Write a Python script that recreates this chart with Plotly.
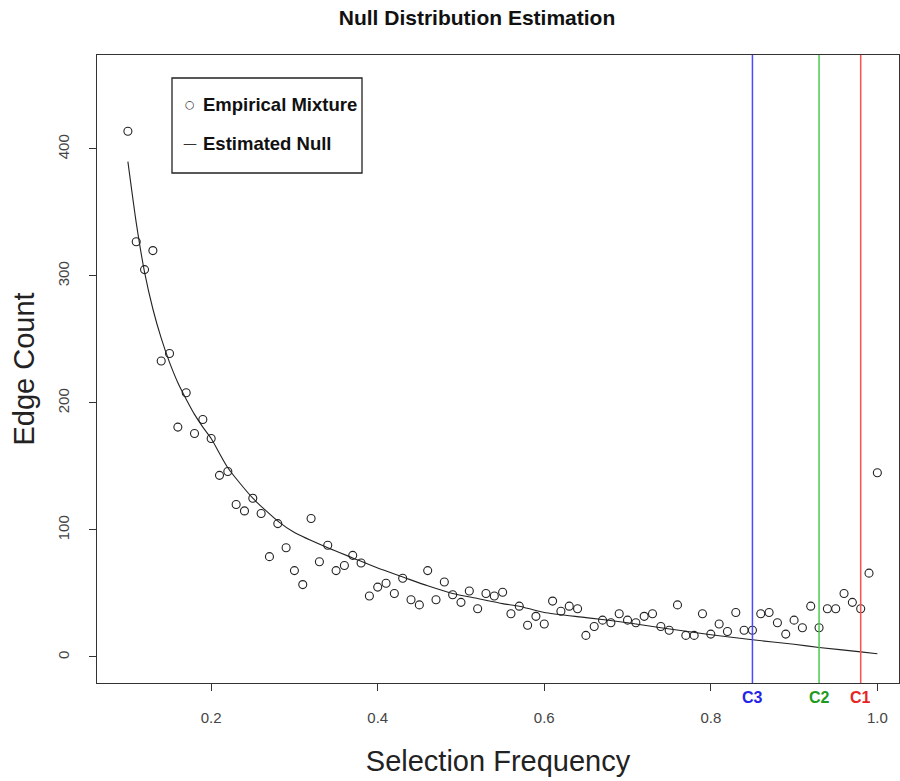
import plotly.graph_objects as go

# Empirical mixture: selection frequency vs edge count
freq = [round(0.10 + 0.01 * i, 2) for i in range(91)]
edge_count = [
    414, 327, 305, 320, 233, 239, 181, 208, 176, 187,   # 0.10-0.19
    172, 143, 146, 120, 115, 125, 113, 79, 105, 86,     # 0.20-0.29
    68, 57, 109, 75, 88, 68, 72, 80, 74, 48,            # 0.30-0.39
    55, 58, 50, 62, 45, 41, 68, 45, 59, 49,             # 0.40-0.49
    43, 52, 38, 50, 48, 51, 34, 40, 25, 32,             # 0.50-0.59
    26, 44, 36, 40, 38, 17, 24, 29, 27, 34,             # 0.60-0.69
    29, 27, 32, 34, 24, 21, 41, 17, 17, 34,             # 0.70-0.79
    18, 26, 20, 35, 21, 21, 34, 35, 27, 18,             # 0.80-0.89
    29, 23, 40, 23, 38, 38, 50, 43, 38, 66,             # 0.90-0.99
    145,                                                # 1.00
]

# Estimated null curve
null_x = [0.10, 0.11, 0.12, 0.13, 0.14, 0.15, 0.16, 0.17, 0.18, 0.19, 0.20,
          0.22, 0.25, 0.28, 0.30, 0.34, 0.37, 0.40, 0.43, 0.46, 0.49, 0.52,
          0.55, 0.57, 0.60, 0.65, 0.70, 0.74, 0.80, 0.85, 0.90, 0.93, 0.98, 1.00]
null_y = [390, 342, 303, 274, 251, 232, 216, 203, 191, 181, 172,
          149, 125, 107, 98, 86, 78, 70, 63, 56, 50, 46,
          42, 40, 35, 31, 27, 23, 17.5, 13.5, 10, 7.5, 4, 2.5]

# Cut-off thresholds
cut_names = ["C3", "C2", "C1"]
cut_values = [0.85, 0.93, 0.98]
cut_line_colors = ["#4a4aff", "#4ccc4c", "#ff5050"]
cut_text_colors = ["#2424e6", "#1f9a1f", "#e62424"]

x_ticks = [0.2, 0.4, 0.6, 0.8, 1.0]
x_tick_labels = ["0.2", "0.4", "0.6", "0.8", "1.0"]
y_ticks = [0, 100, 200, 300, 400]

legend_labels = ["Empirical Mixture", "Estimated Null"]
legend_symbols = ["○", "—"]

FONT = "Liberation Sans, Arial, sans-serif"

fig = go.Figure()
fig.add_trace(go.Scatter(
    x=freq, y=edge_count, mode="markers", name=legend_labels[0],
    marker=dict(symbol="circle-open", size=8, color="#222222",
                line=dict(width=1.1, color="#222222")),
))
fig.add_trace(go.Scatter(
    x=null_x, y=null_y, mode="lines", name=legend_labels[1],
    line=dict(color="#222222", width=1.1, shape="spline", smoothing=0.6),
))

for name, v, lc, tc in zip(cut_names, cut_values, cut_line_colors, cut_text_colors):
    fig.add_shape(type="line", x0=v, x1=v, xref="x", yref="paper", y0=0, y1=1,
                  line=dict(color=lc, width=1.5))
    fig.add_annotation(x=v, xref="x", y=0, yref="paper", yanchor="top",
                       yshift=-4, text=f"<b>{name}</b>", showarrow=False,
                       font=dict(family=FONT, size=16, color=tc))

# Custom legend box (paper coords; plot spans x 97..899, y 55..683)
PL, PR, PT, PB = 97, 899, 55, 683
def px(xp):
    return (xp - PL) / (PR - PL)
def py(yp):
    return (PB - yp) / (PB - PT)

fig.add_shape(type="rect", xref="paper", yref="paper",
              x0=px(172), x1=px(362), y0=py(173), y1=py(78),
              line=dict(color="#222222", width=1.3), fillcolor="white", layer="above")
legend_rows = [105, 143]
for sym, lab, yr, ssize in zip(legend_symbols, legend_labels, legend_rows, [11, 14]):
    fig.add_annotation(xref="paper", yref="paper", x=px(190), y=py(yr),
                       xanchor="center", yanchor="middle", text=sym,
                       showarrow=False,
                       font=dict(family="DejaVu Sans", size=ssize, color="#333333"))
    fig.add_annotation(xref="paper", yref="paper", x=px(201), y=py(yr),
                       xanchor="left", yanchor="middle", text=f"<b>{lab}</b>",
                       showarrow=False,
                       font=dict(family=FONT, size=18.5, color="#111111"))

fig.update_layout(
    width=900, height=781,
    margin=dict(l=PL, r=900 - PR, t=PT, b=781 - PB),
    paper_bgcolor="white", plot_bgcolor="white",
    title=dict(text="<b>Null Distribution Estimation</b>",
               font=dict(family=FONT, size=21, color="#111111"),
               x=477 / 900, xanchor="center", y=1 - 18 / 781, yanchor="middle",
               xref="container", yref="container"),
    font=dict(family=FONT, color="#333333"),
    showlegend=False,
)

fig.update_xaxes(
    range=[0.0629, 1.026], tickvals=x_ticks, ticktext=x_tick_labels,
    ticks="outside", ticklen=7, tickwidth=1, tickcolor="#333333",
    showline=True, linecolor="#333333", linewidth=1.2, mirror=True,
    showgrid=False, zeroline=False, ticklabelstandoff=14, automargin=False,
    tickfont=dict(family=FONT, size=15, color="#444444"),
    title=dict(text="Selection Frequency", standoff=25,
               font=dict(family=FONT, size=29, color="#222222")),
)
fig.update_yaxes(
    range=[-20.5, 474], tickvals=y_ticks,
    ticks="outside", ticklen=7, tickwidth=1, tickcolor="#333333",
    showline=True, linecolor="#333333", linewidth=1.2, mirror=True,
    showgrid=False, zeroline=False, tickangle=-90, ticklabelstandoff=14,
    automargin=False,
    tickfont=dict(family=FONT, size=15, color="#444444"),
    title=dict(text="Edge Count", standoff=11,
               font=dict(family=FONT, size=29, color="#222222")),
)

fig.write_html(
    "out.html",
    config={"displayModeBar": False},
    post_script="document.body.style.margin='0';document.body.style.overflow='hidden';",
)
